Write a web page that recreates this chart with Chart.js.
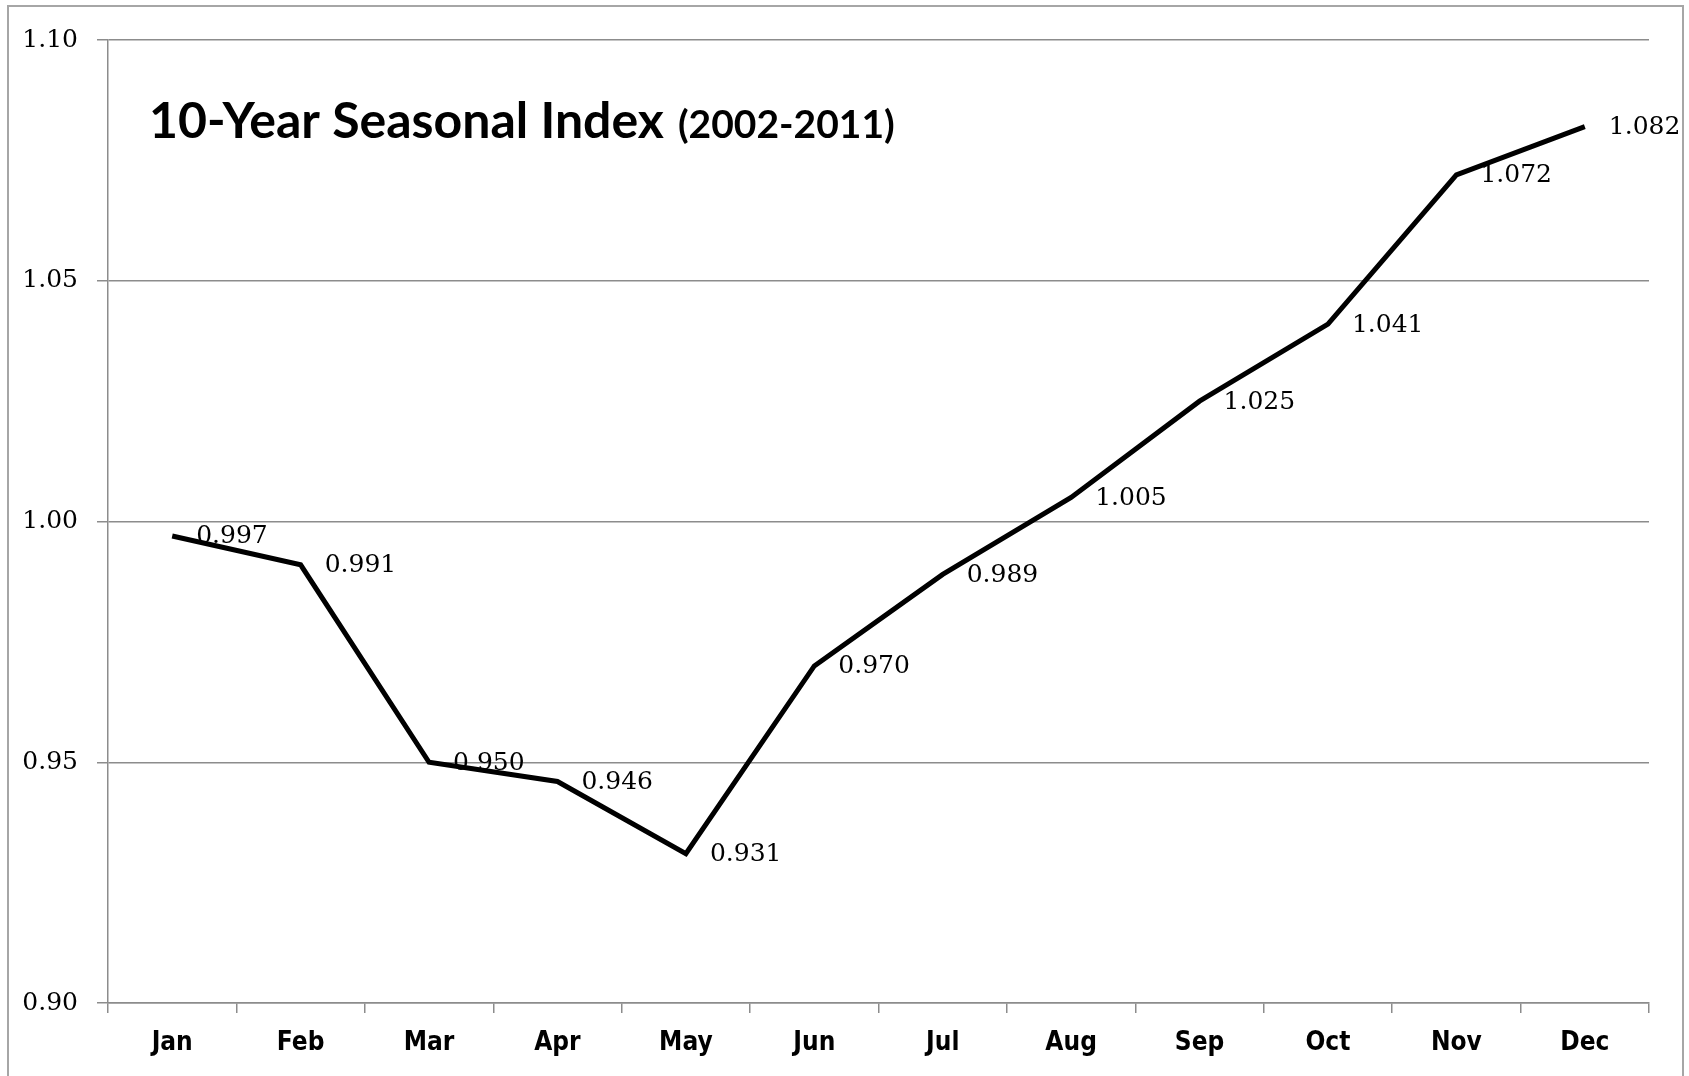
<!DOCTYPE html>
<html>
<head>
<meta charset="utf-8">
<script src="https://cdn.jsdelivr.net/npm/chart.js@4.4.1/dist/chart.umd.min.js"></script>
<style>
  html, body { margin: 0; padding: 0; background: #ffffff; }
  #wrap { position: relative; width: 1689px; height: 1076px; }
</style>
</head>
<body>
<div id="wrap"><canvas id="c" width="1689" height="1076"></canvas></div>
<script>
// ---- data ----
const months = ["Jan","Feb","Mar","Apr","May","Jun","Jul","Aug","Sep","Oct","Nov","Dec"];
const seasonalIndex = [0.997, 0.991, 0.950, 0.946, 0.931, 0.970, 0.989, 1.005, 1.025, 1.041, 1.072, 1.082];
const yMin = 0.90;
const yMax = 1.10;
const yStep = 0.05;
const titleMain = "10-Year Seasonal Index";
const titleSub = "(2002-2011)";

const GRID = '#8c8c8c';

const framePlugin = {
  id: 'frame',
  beforeDraw(chart) {
    const ctx = chart.ctx;
    ctx.save();
    ctx.fillStyle = '#ffffff';
    ctx.fillRect(0, 0, chart.width, chart.height);
    ctx.strokeStyle = '#a6a6a6';
    ctx.lineWidth = 2;
    ctx.strokeRect(8, 6, 1675, 1090);
    ctx.restore();
  },
  afterDraw(chart) {
    const ctx = chart.ctx;
    ctx.save();
    ctx.fillStyle = '#000000';
    ctx.textBaseline = 'alphabetic';
    ctx.font = "bold 50px Lato, 'Open Sans', sans-serif";
    ctx.fillText(titleMain, 149, 138);
    const w = ctx.measureText(titleMain).width;
    ctx.font = "bold 39px Lato, 'Open Sans', sans-serif";
    ctx.fillText(titleSub, 149 + w + 14, 138);
    ctx.restore();
  }
};

const labelPlugin = {
  id: 'pointLabels',
  afterDatasetsDraw(chart) {
    const ctx = chart.ctx;
    const meta = chart.getDatasetMeta(0);
    ctx.save();
    ctx.fillStyle = '#000000';
    ctx.font = "25px 'DejaVu Serif', serif";
    ctx.textBaseline = 'middle';
    ctx.textAlign = 'left';
    meta.data.forEach((pt, i) => {
      const txt = seasonalIndex[i].toFixed(3);
      ctx.fillText(txt, pt.x + 24, pt.y + 1);
    });
    ctx.restore();
  }
};

new Chart(document.getElementById('c'), {
  type: 'line',
  data: {
    labels: months,
    datasets: [{
      data: seasonalIndex,
      borderColor: '#000000',
      borderWidth: 5,
      borderJoinStyle: 'miter',
      pointRadius: 0,
      tension: 0,
      fill: false
    }]
  },
  options: {
    responsive: false,
    animation: false,
    devicePixelRatio: 1,
    layout: { padding: { top: 40, right: 40, left: 0, bottom: 0 } },
    plugins: { legend: { display: false }, title: { display: false }, tooltip: { enabled: false } },
    scales: {
      x: {
        offset: true,
        afterFit(scale) { scale.height = 73; },
        grid: { display: true, drawOnChartArea: false, drawTicks: true, tickLength: 10, offset: true, color: GRID, lineWidth: 1.5 },
        border: { display: true, color: GRID, width: 1.5 },
        ticks: {
          color: '#000000',
          padding: 15,
          maxRotation: 0,
          font: { family: "'Liberation Sans Narrow', 'DejaVu Sans Condensed', sans-serif", size: 26, weight: 'bold' }
        }
      },
      y: {
        min: yMin,
        max: yMax,
        afterFit(scale) { scale.width = 108; },
        grid: { color: GRID, lineWidth: 1.5, drawTicks: true, tickLength: 11, z: 0 },
        border: { display: true, color: GRID, width: 1.5 },
        ticks: {
          stepSize: yStep,
          color: '#000000',
          padding: 19,
          font: { family: "'DejaVu Serif', serif", size: 25 },
          callback: (v) => Number(v).toFixed(2)
        }
      }
    }
  },
  plugins: [framePlugin, labelPlugin]
});
</script>
</body>
</html>
